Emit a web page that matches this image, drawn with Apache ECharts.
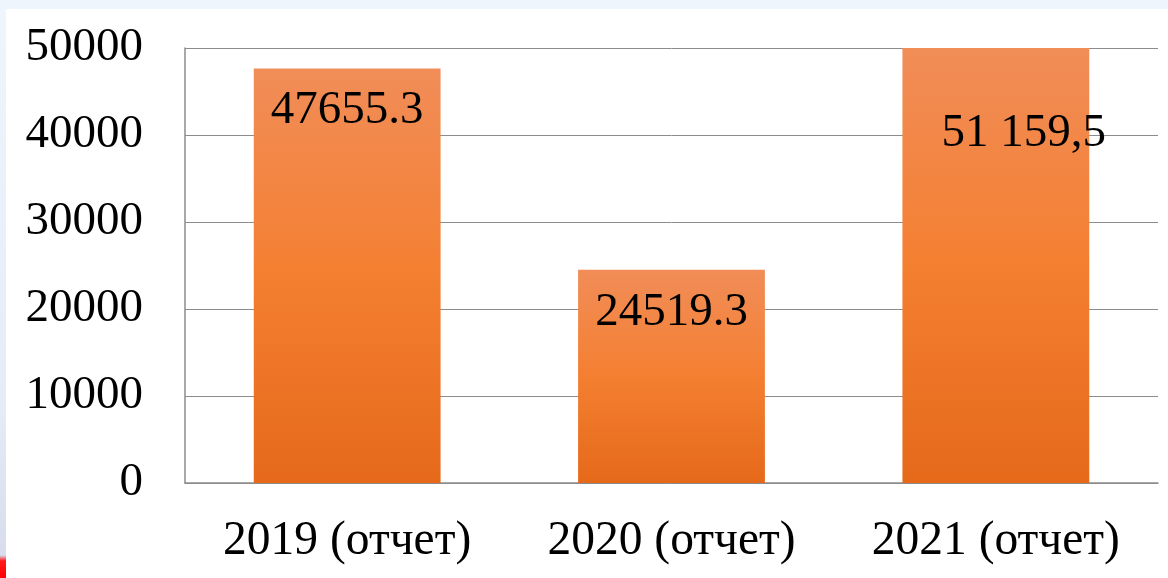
<!DOCTYPE html>
<html>
<head>
<meta charset="utf-8">
<script src="https://cdn.jsdelivr.net/npm/echarts@6/dist/echarts.min.js"></script>
<style>
  html, body { margin: 0; padding: 0; width: 1168px; height: 578px; overflow: hidden; }
  body { background: #eef5fc; position: relative; }
  #leftstrip { position: absolute; left: 0; top: 9px; width: 6px; height: 569px;
    background: linear-gradient(to bottom, #eef5fc 0%, #e4ecf7 70%, #d8dcec 96%, #ff1a1a 97%, #ff0000 100%); }
  #chart { position: absolute; left: 6px; top: 9px; width: 1162px; height: 569px; background: #ffffff; }
</style>
</head>
<body>
<div id="leftstrip"></div>
<div id="chart"></div>
<script>
  const categories = ['2019 (отчет)', '2020 (отчет)', '2021 (отчет)'];
  const values = [47655.3, 24519.3, 51159.5];
  const labelTexts = ['47655.3', '24519.3', '51 159,5'];
  const yTicks = { min: 0, max: 50000, interval: 10000 };

  const chart = echarts.init(document.getElementById('chart'), null, { renderer: 'canvas' });
  const font = '"Liberation Serif", "Times New Roman", serif';
  const barColor = new echarts.graphic.LinearGradient(0, 0, 0, 1, [
    { offset: 0, color: '#f18d58' },
    { offset: 0.5, color: '#f47f31' },
    { offset: 1, color: '#e6691a' }
  ]);
  chart.setOption({
    animation: false,
    grid: { left: 179, right: 10, top: 39, bottom: 95, containLabel: false },
    xAxis: {
      type: 'category',
      data: categories,
      axisLine: { show: true, lineStyle: { color: '#8c8c8c', width: 1.5 } },
      axisTick: { show: false },
      axisLabel: { color: '#000', fontFamily: font, fontSize: 47.5, margin: 35 }
    },
    yAxis: {
      type: 'value',
      min: yTicks.min, max: yTicks.max, interval: yTicks.interval,
      axisLine: { show: true, lineStyle: { color: '#8c8c8c', width: 1.5 } },
      axisTick: { show: false },
      splitLine: { show: true, lineStyle: { color: '#8c8c8c', width: 1 } },
      axisLabel: { color: '#000', fontFamily: font, fontSize: 47, margin: 42, formatter: v => String(v) }
    },
    series: [{
      type: 'bar',
      barWidth: '57.6%',
      clip: true,
      data: values.map((v, i) => {
        const item = { value: v };
        if (i === 2) {
          item.label = { offset: [28, 43] };
        }
        return item;
      }),
      itemStyle: { color: barColor },
      label: {
        show: true,
        position: 'insideTop',
        distance: 19,
        color: '#000',
        fontFamily: font,
        fontSize: 47,
        formatter: p => labelTexts[p.dataIndex]
      }
    }]
  });
</script>
</body>
</html>
